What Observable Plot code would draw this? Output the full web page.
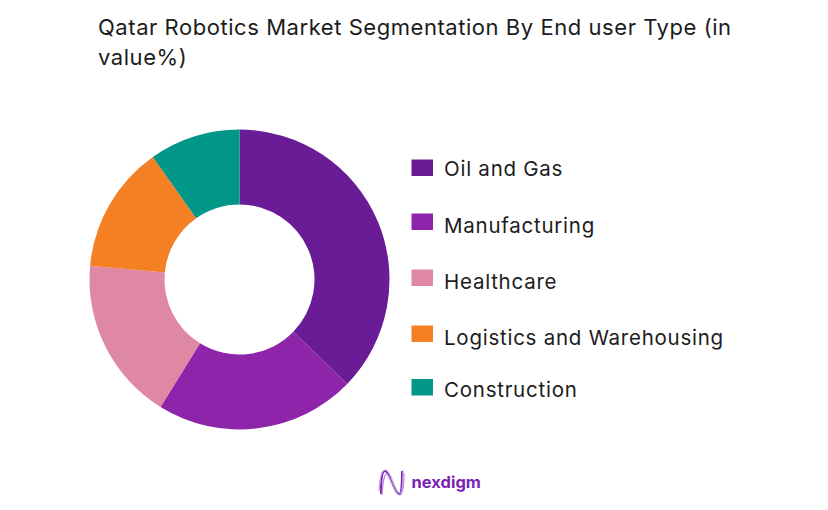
<!DOCTYPE html>
<html>
<head>
<meta charset="utf-8">
<script src="https://cdn.jsdelivr.net/npm/d3@7"></script>
<script src="https://cdn.jsdelivr.net/npm/@observablehq/plot@0.6"></script>
<style>
html,body{margin:0;padding:0;background:#fff;overflow:hidden}
#wrap{position:relative;width:828px;height:510px}
#title{box-sizing:border-box;height:82px;padding:12px 80px 0 98px;font:400 22px/30px Inter,sans-serif;letter-spacing:.55px;color:#1c1c1c}
#logo{position:absolute;left:376px;top:466px}
svg{display:block}
</style>
</head>
<body>
<div id="wrap">
<div id="title">Qatar Robotics Market Segmentation By End user Type (in value%)</div>
<div id="chart"></div>
<svg id="logo" width="32" height="32" viewBox="0 0 32 32" fill="none">
  <path d="M5 28C5 12 6 5 9 5C14 5 18 28 23 28C26 28 26 14 26 5" stroke="#7a22b5" stroke-width="2"/>
  <path d="M3 25C4 10 6 3 10 4C16 6 18 26 24 27C27 27 27 12 27 4" stroke="#c9a2e0" stroke-width="1.2"/>
  <path d="M6 29C7 15 8 8 11 8C14 9 19 30 24 29C27 28 28 16 28 7" stroke="#b98ad8" stroke-width="1.2"/>
</svg>
</div>
<script>
const segments = ["Oil and Gas", "Manufacturing", "Healthcare", "Logistics and Warehousing", "Construction"];
const shares = [38, 22, 18, 14, 10];
const colors = ["#6a1b96", "#8e24aa", "#de88a4", "#f57f23", "#009688"];

// page layout, in picture pixels (kept apart from the data)
const legendSwatchTop = [159.5, 213.5, 269.5, 325.5, 379];
const legendLabelY = [169, 226, 282, 338, 390];
const center = {x: 239.5, y: 279.5};
const outerR = 150, innerR = 75;

const rows = segments.map((name, i) => ({name, share: shares[i], top: legendSwatchTop[i], labelY: legendLabelY[i]}));

const donut = (index, scales, values, dimensions, context) => {
  const g = d3.select(context.document.createElementNS("http://www.w3.org/2000/svg", "g"));
  const k = scales.x(1) - scales.x(0);
  const slices = d3.pie().sort(null).value(d => d.share)(rows);
  const arc = d3.arc().innerRadius(innerR * k).outerRadius(outerR * k);
  g.attr("transform", `translate(${scales.x(center.x)},${scales.y(center.y)})`);
  g.selectAll("path").data(slices).join("path")
    .attr("d", arc)
    .attr("fill", d => scales.color(d.data.name));
  return g.node();
};

const chart = Plot.plot({
  width: 828,
  height: 428,
  margin: 0,
  x: {domain: [0, 828], range: [0, 828], axis: null},
  y: {domain: [82, 510], range: [0, 428], axis: null},
  color: {domain: segments, range: colors},
  style: {background: "transparent"},
  marks: [
    Plot.rect(rows, {x1: () => 411.5, x2: () => 433, y1: d => d.top, y2: d => d.top + 16.5, fill: d => d.name}),
    donut,
    Plot.text(rows, {x: () => 443.5, y: d => d.labelY, text: d => d.name, textAnchor: "start",
      fontFamily: "Inter, sans-serif", fontSize: 20.5, fill: "#1c1c1c"}),
    Plot.text(["nexdigm"], {x: () => 411, y: () => 482.5, text: d => d, textAnchor: "start",
      fontFamily: "Inter, sans-serif", fontWeight: 700, fontSize: 16.5, fill: "#7a22b5"})
  ]
});
d3.select(chart).selectAll("text").style("letter-spacing", function () {
  return this.textContent === "nexdigm" ? "0" : ".75px";
});
document.getElementById("chart").appendChild(chart);
</script>
</body>
</html>
